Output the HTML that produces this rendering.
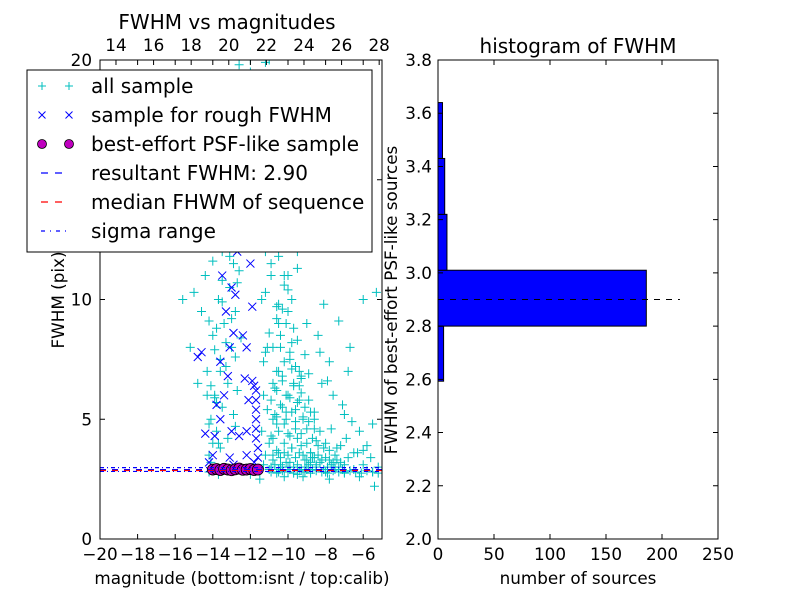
<!DOCTYPE html>
<html><head><meta charset="utf-8"><style>
body{margin:0;background:#fff}
svg{display:block;font-family:"DejaVu Sans","Liberation Sans",sans-serif}
</style></head><body>
<svg id="fig" width="800" height="600" xmlns="http://www.w3.org/2000/svg">
<rect width="800" height="600" fill="#fff"/>
<g id="left"></g>
<g id="right"></g>
</svg>
<script>
// ---- data: scatter ----
const allSampleX=[-14.2,-14,-13.8,-14.1,-13.5,-13.9,-13.2,-14.3,-13.6,-13,-14,-13.4,-12.8,-13.7,-13.1,-14.4,-12.9,-13.5,-13.8,-12.6,-13.3,-13,-12.5,-14.6,-15.2,-14.8,-15,-13.2,-12.9,-13.6,-12.7,-13.3,-12.5,-14.1,-13.8,-12.8,
-11.2,-11,-10.8,-11.3,-10.6,-11.1,-10.5,-11.4,-10.9,-11.2,-10.7,-11,-11.5,-10.4,-11.3,-11.1,-12,-12.6,-11,-10.2,-10,-9.8,-9.5,
-10.8,-10.5,-10.2,-10,-9.8,-9.5,-9.2,-9,-8.8,-8.5,-10.3,-10.1,-9.7,-9.4,-9.9,-10.4,-9.6,-9.3,-8.9,-8.6,-8.3,-8,-7.8,-7.5,-10.6,-10.7,-9.1,-8.7,-9.9,-10.4,-7.2,-7,-6.8,-6.5,-8.2,-7.6,-6.8,-6.2,-5.5,-5.3,-6,-9,-8.4,-7.8,-9.5,-10,-8.1,
-10.9,-10.6,-10.3,-9.9,-9.6,-9.3,-9.8,-10.1,-9.4,-9.7,-10.5,-10.2,-9.1,-8.9,-9.5,-10,
-11,-10.5,-10,-9.5,-9,-8.5,-8,-7.5,-7,-6.5,-6,-5.5,-5.2,-6.2,-7.8,-9.2,-10.2,-11.5,-5.4,-8.8,-12,-13.7,-14.2,-11.3,
-11.2,-12,-14,-15.6,-14.8,-9.8,-10.5,-9.6,
-10.9,-10.7,-10.5,-10.3,-10.1,-9.9,-9.7,-9.5,-9.3,-9.1,-8.9,-8.7,-8.5,-8.3,-8.1,-7.9,-7.7,-7.5,-7.3,-7.1,
-10.8,-10.6,-10.4,-10.2,-10,-9.8,-9.6,-9.4,-9.2,-9,-8.8,-8.6,-8.4,-8.2,-8,-7.8,-7.6,-7.4,-7.2,-7,
-10.9,-10.6,-10.3,-10,-9.7,-9.4,-9.1,-8.8,-8.5,-8.2,-7.9,-7.6,-7.3,-7,-6.7,-6.4,-6.1,-5.8,-5.5,-5.2,
-10.8,-10.5,-10.2,-9.9,-9.6,-9.3,-9,-8.7,-8.4,-8.1,
-10.7,-10.4,-10.1,-9.8,-9.5,-9.2,-8.9,-8.6,-10.6,-10.3,-10,-9.7,-9.4,-9.1,-8.8,
-10.5,-10.2,-9.9,-9.6,-9.3,-10.4,-10.1,-9.8,-10.3,-10,-10.6,-10.8,-10.2,-10.5,-10.9,-11.1,-10.7,-10.4,
-14.2,-13.9,-13.6,-13.3,-13,-14.1,-13.8,-13.5,-13.2,-14,-13.7,-13.4,-12.9,-12.6,-14.3,-13.9,-13.5,-13.1,-12.7,-14.2,-13.7,-12.8,-13.4,-13.9,
-11.4,-11.1,-10.8,-11.3,-11,-10.6,-11.2,-10.9,-11.4,-10.8,-11,-10.7,-11.3,-11.5,-11.2,-10.9,
-7.4,-6.9,-6.3,-5.8,-7.7,-7.1,-6.6,-6,-5.6,-8.3,-7.9,-8.6,-9.3,-6.7,-7.3];
const allSampleY=[3.5,4,4.5,5,5.5,6,6.5,7,7.5,8,8.5,9,9.5,10,10.5,11,11.5,12,13,13.5,14,15,16,9.5,8,6.5,10.3,4.2,5.2,3.8,6.2,7.2,8.4,3.2,5.7,4.7,
3.5,4,5,6,7,8,9,10,11,12,13,14,15,16,17,18,19.5,19.8,20,12.5,11,10,12,
3.3,3.6,4,4.4,3.8,4.2,5,4.6,3.6,4.1,5.5,6,6.5,7,7.5,8,5.4,6.1,5.8,5,4.5,4,3.7,3.5,4.8,6.3,3.3,3.4,3.2,3.1,3.9,5.2,3.4,3.6,6.5,6,7,4.5,4.8,10.3,10,9,8.5,7.4,8.3,9.5,9.8,
4.3,5.1,6.8,5.9,4.9,3.9,7.1,5.3,6.4,8.8,9.8,10.6,7.7,6.9,11.3,13.2,
2.9,2.8,3.0,2.7,2.9,3.1,2.8,3,2.8,2.9,3.1,2.8,3,2.6,2.5,2.6,2.6,2.5,2.2,3.2,2.7,2.7,2.8,3.1,
19.9,20,15,10,13,14,15.5,17,
3.0,3.1,2.9,3.0,3.2,2.9,3.0,3.1,2.9,3.0,3.1,2.9,3.0,3.2,2.9,3.0,3.1,2.9,3.0,2.9,
3.5,3.7,3.4,3.6,3.5,3.8,3.4,3.6,3.5,3.3,3.6,3.4,3.5,3.3,3.4,3.3,3.2,3.3,3.2,3.1,
2.8,2.75,2.85,2.8,2.75,2.85,2.8,2.75,2.85,2.8,2.75,2.85,2.8,2.75,2.85,2.8,2.75,2.85,2.8,2.75,
4.2,4.5,4.8,4.3,4.6,4.4,4.0,4.2,3.9,3.8,
5.2,5.6,5.0,5.3,5.7,5.1,4.9,4.6,6.2,6.6,6.0,6.4,5.8,5.5,5.3,
7.0,7.4,7.8,7.2,6.8,8.5,9.0,8.2,9.6,10.4,9.2,8.0,11.0,11.8,12.4,12.8,13.6,14.5,
4.8,5.9,7.0,8.2,9.2,6.4,8.8,10.8,12.3,11.6,12.9,14.6,12.8,11.2,6.0,7.9,9.9,11.8,10.7,9.1,4.0,7.6,16.5,17.5,
4.5,5.4,6.5,7.4,8.6,9.7,10.3,11.5,12.8,13.6,15.8,16.8,18.6,13.3,7.8,5.8,
3.8,4.2,3.6,3.9,4.6,5.6,4.9,3.7,3.4,7.8,6.6,5.3,6.7,8.0,9.1];
const roughX=[-14.2,-14,-13.9,-13.6,-13.8,-13.4,-13.2,-13.6,-13.1,-12.9,-13.3,-12.8,-13.5,-12.7,-12.6,-12.8,-12.3,-13,-14.8,-14.6,-12.1,-12.3,-11.9,-11.8,-11.7,-11.7,-11.7,-11.7,-11.7,-11.7,-11.6,-11.6,-11.8,-12.2,-12.2,-12.6,-13,-12.2,-12.4,-11.9,-12,-11.6,-12.1,-12.5,-12.4,-13.1,-12.9,-14.4];
const roughY=[3.2,3.5,4.3,5,5.6,6,6.8,7.4,8,8.6,9.5,10.2,11,12,13.5,14.4,15,10.5,7.6,7.8,5.8,6.7,6.6,6.4,6.2,5.8,5.4,5,4.6,4.2,3.8,3.4,3.2,3.5,4.5,4.3,4.5,8,8.5,9.7,11.5,13,12.2,14.8,16,3.4,3.1,4.4];
const psfX=[-14,-13.8,-13.6,-13.4,-13.2,-13,-12.8,-12.6,-12.4,-12.2,-12,-11.8,-11.6];
const psfY=[2.9,2.92,2.88,2.93,2.9,2.87,2.91,2.94,2.89,2.9,2.92,2.88,2.9];
const resultFWHM=2.90, medianFWHM=2.86, sigmaLow=2.82, sigmaHigh=2.98;
// ---- data: histogram ----
const binEdges=[2.593,2.80,3.01,3.22,3.43,3.64];
const binCounts=[5,186,8,6,4];
const leftXTicks=[-20,-18,-16,-14,-12,-10,-8,-6];
const topXTicks=[14,16,18,20,22,24,26,28];
const leftYTicks=[0,5,10,15,20];
const histXTicks=[0,50,100,150,200,250];
const histYTicks=[2.0,2.2,2.4,2.6,2.8,3.0,3.2,3.4,3.6,3.8];

const NS="http://www.w3.org/2000/svg";
function mk(parent,tag,attrs,text){const e=document.createElementNS(NS,tag);for(const k in attrs)e.setAttribute(k,attrs[k]);if(text!==undefined)e.textContent=text;parent.appendChild(e);return e;}
const L=document.getElementById('left'), R=document.getElementById('right');
const lx0=100,lx1=382,ly0=60,ly1=539;
const sx=v=>lx0+(v+20)/15*(lx1-lx0);
const sy=v=>ly1-v/20*(ly1-ly0);
const tx=v=>sx(v-33.15);
const clip=mk(document.getElementById('fig'),'clipPath',{id:'lc'});
mk(clip,'rect',{x:lx0,y:ly0,width:lx1-lx0,height:ly1-ly0});
const plot=mk(L,'g',{'clip-path':'url(#lc)'});


allSampleX.forEach((x,i)=>{const X=sx(x),Y=sy(allSampleY[i]);
 const g=mk(plot,'path',{d:`M${X-4.5},${Y}h9M${X},${Y-4.5}v9`,stroke:'#00bfbf','stroke-width':1});
 
 });
roughX.forEach((x,i)=>{const X=sx(x),Y=sy(roughY[i]);
 const g=mk(plot,'path',{d:`M${X-4},${Y-4}l8,8M${X-4},${Y+4}l8,-8`,stroke:'#0000ff','stroke-width':1});
 
 });
psfX.forEach((x,i)=>{const c=mk(plot,'circle',{cx:sx(x),cy:sy(psfY[i]),r:5.5,fill:'#bf00bf',stroke:'#000','stroke-width':0.8});
 
 });
function hline(p,v,col,dash,name){const l=mk(p,'line',{x1:lx0,x2:lx1,y1:sy(v),y2:sy(v),stroke:col,'stroke-width':1.2,'stroke-dasharray':dash});
 
 }
hline(plot,resultFWHM,'#0000ff','6,6','resultant-fwhm-line');
hline(plot,medianFWHM,'#ff0000','6,6','median-fwhm-line');
hline(plot,sigmaLow,'#0000ff','4,3,1,3','sigma-low-line');
hline(plot,sigmaHigh,'#0000ff','4,3,1,3','sigma-high-line');
mk(L,'rect',{x:lx0,y:ly0,width:lx1-lx0,height:ly1-ly0,fill:'none',stroke:'#000'});
leftXTicks.forEach(v=>{const X=sx(v);mk(L,'path',{d:`M${X},${ly1}v-5M${X},${ly0}v5`,stroke:'#000'});
 const t=mk(L,'text',{x:X,y:ly1+21,'text-anchor':'middle','font-size':16.8},v<0?'\u2212'+(-v):v);
 
 });
topXTicks.forEach(v=>{const X=tx(v);mk(L,'path',{d:`M${X},${ly0}v5`,stroke:'#000'});
 const t=mk(L,'text',{x:X,y:51,'text-anchor':'middle','font-size':16.8},v);
 
 });
leftYTicks.forEach(v=>{const Y=sy(v);mk(L,'path',{d:`M${lx0},${Y}h5M${lx1},${Y}h-5`,stroke:'#000'});
 const t=mk(L,'text',{x:lx0-8,y:Y+6,'text-anchor':'end','font-size':16.8},v);
 
 });
const lg=mk(L,'g',{});


mk(lg,'rect',{x:27,y:70,width:345,height:182,fill:'#fff',stroke:'#000'});
const lab=['all sample','sample for rough FWHM','best-effort PSF-like sample','resultant FWHM: 2.90','median FHWM of sequence','sigma range'];
lab.forEach((s,i)=>{const Y=86+i*29;
 const t=mk(lg,'text',{x:91,y:Y+7,'font-size':20},s);
 
 
 if(i==0)[42,69].forEach(X=>mk(lg,'path',{d:`M${X-4},${Y}h8M${X},${Y-4}v8`,stroke:'#00bfbf'}));
 if(i==1)[42,69].forEach(X=>mk(lg,'path',{d:`M${X-3.5},${Y-3.5}l7,7M${X-3.5},${Y+3.5}l7,-7`,stroke:'#0000ff'}));
 if(i==2)[42,69].forEach(X=>mk(lg,'circle',{cx:X,cy:Y,r:4.5,fill:'#bf00bf',stroke:'#000','stroke-width':0.8}));
 if(i==3)mk(lg,'line',{x1:41,x2:69,y1:Y,y2:Y,stroke:'#0000ff','stroke-width':1.2,'stroke-dasharray':'7,7'});
 if(i==4)mk(lg,'line',{x1:41,x2:69,y1:Y,y2:Y,stroke:'#ff0000','stroke-width':1.2,'stroke-dasharray':'7,7'});
 if(i==5)mk(lg,'line',{x1:41,x2:69,y1:Y,y2:Y,stroke:'#0000ff','stroke-width':1.2,'stroke-dasharray':'4,5,1,5'});
});
let t=mk(L,'text',{x:227,y:29,'text-anchor':'middle','font-size':20},'FWHM vs magnitudes');

t=mk(L,'text',{x:242,y:584,'text-anchor':'middle','font-size':16.8},'magnitude (bottom:isnt / top:calib)');

t=mk(L,'text',{x:0,y:0,'text-anchor':'middle','font-size':16.8,transform:'translate(64,300) rotate(-90)'},'FWHM (pix)');

const rx0=438,rx1=718;
const hx=v=>rx0+v/250*(rx1-rx0);
const hy=v=>ly1-(v-2.0)/1.8*(ly1-ly0);
binCounts.forEach((c,i)=>{const b=mk(R,'rect',{x:rx0,y:hy(binEdges[i+1]),width:hx(c)-rx0,height:hy(binEdges[i])-hy(binEdges[i+1]),fill:'#0000ff',stroke:'#000','stroke-width':1});
 
 });
const dl=mk(R,'line',{x1:rx0,x2:hx(216),y1:hy(resultFWHM),y2:hy(resultFWHM),stroke:'#000','stroke-width':1,'stroke-dasharray':'6,6'});


mk(R,'rect',{x:rx0,y:ly0,width:rx1-rx0,height:ly1-ly0,fill:'none',stroke:'#000'});
histXTicks.forEach(v=>{const X=hx(v);mk(R,'path',{d:`M${X},${ly1}v-5M${X},${ly0}v5`,stroke:'#000'});
 const t=mk(R,'text',{x:X,y:ly1+21,'text-anchor':'middle','font-size':16.8},v);
 });
histYTicks.forEach(v=>{const Y=hy(v);mk(R,'path',{d:`M${rx0},${Y}h5M${rx1},${Y}h-5`,stroke:'#000'});
 const t=mk(R,'text',{x:rx0-6,y:Y+6,'text-anchor':'end','font-size':16.8},v.toFixed(1));
 });
t=mk(R,'text',{x:578,y:53,'text-anchor':'middle','font-size':20},'histogram of FWHM');

t=mk(R,'text',{x:578,y:584,'text-anchor':'middle','font-size':16.8},'number of sources');

t=mk(R,'text',{x:0,y:0,'text-anchor':'middle','font-size':16.8,transform:'translate(397,300) rotate(-90)'},'FWHM of best-effort PSF-like sources');

</script>
</body></html>
